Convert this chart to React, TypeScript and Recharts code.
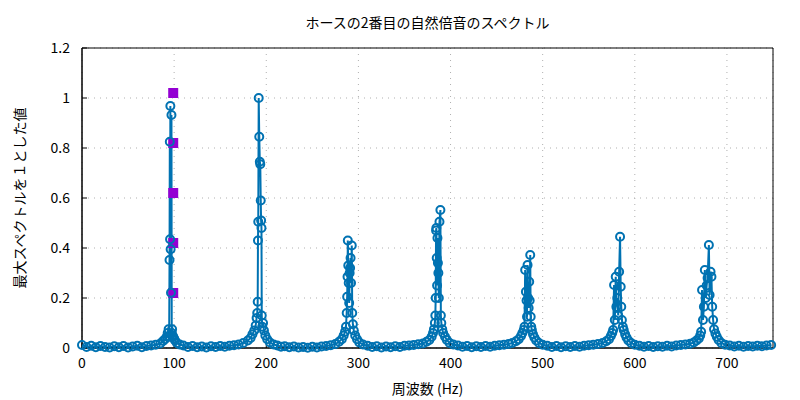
import React from "react";
import {
  ComposedChart, Line, Scatter, XAxis, YAxis, CartesianGrid, ReferenceArea, Label,
} from "recharts";

// spectrum samples (Hz / normalised amplitude)
const freqHz = [
  0, 5, 10, 15, 20, 25, 30, 35, 40, 45, 50, 55, 60, 65, 70, 75, 80, 85,
  88, 90, 92, 93, 94, 94.6, 95.0, 95.3, 95.6, 95.9, 96.2, 96.6, 97.1, 97.4, 97.8, 98.3, 99, 100, 101, 103, 106,
  110, 115, 120, 125, 130, 135, 140, 145, 150, 155, 160, 165, 170, 175, 180,
  183, 185, 187, 188.5, 189.5, 190.2, 190.7, 191.0, 191.3, 191.8, 192.4, 193.0, 193.5, 194.0, 194.4, 194.8, 195.1, 195.6, 196.5, 197.5, 199, 201, 204, 208,
  212, 216, 220, 225, 230, 235, 240, 245, 250, 255, 260, 265, 270, 275, 279,
  282, 284, 285.5, 286.5, 287.3, 287.8, 288.2, 288.5, 289.0, 289.5, 290.0, 290.5, 291.0, 291.5, 292.0, 292.8, 293.3, 294, 295, 296.5, 298.5, 301, 305,
  310, 315, 320, 325, 330, 335, 340, 345, 350, 355, 360, 365, 370, 374, 377,
  379.5, 381, 382, 383, 383.5, 383.9, 384.3, 384.6, 385, 385.4, 385.8, 386.3, 386.8, 387.3, 388, 389, 389.5, 390, 391, 392, 394, 396, 399, 403,
  408, 413, 418, 423, 428, 433, 438, 443, 448, 453, 458, 463, 467, 471, 474,
  476.5, 478, 479.5, 480.3, 481, 481.8, 482.5, 483, 483.6, 484.2, 484.8, 485.4, 485.9, 486.5, 487, 487.6, 488.3, 489.5, 491, 493, 496, 500,
  505, 510, 515, 520, 525, 530, 535, 540, 545, 550, 555, 560, 565, 569, 572,
  574, 575.5, 576.5, 577.5, 578.3, 579.3, 580, 581, 582, 583, 584, 584.7, 585.3, 586, 587, 588, 589.5, 591, 593, 596, 600,
  605, 610, 615, 620, 625, 630, 635, 640, 645, 650, 655, 660, 664, 667, 669.5,
  671, 672, 673, 674, 675, 676, 677, 678, 679, 680.4, 681.2, 682.2, 683.2, 684, 685, 686, 687.5, 689, 691, 694, 698,
  703, 708, 713, 718, 723, 728, 733, 738, 743, 748,
];

const amplitude = [
  0.012, 0.004, 0.009, 0.003, 0.008, 0.004, 0.002, 0.007, 0.003, 0.008, 0.002, 0.006, 0.009, 0.003, 0.008, 0.01, 0.013, 0.018,
  0.028, 0.035, 0.045, 0.06, 0.075, 0.045, 0.352, 0.825, 0.435, 0.968, 0.395, 0.221, 0.932, 0.06, 0.075, 0.05, 0.045, 0.038, 0.03, 0.02, 0.014,
  0.01, 0.004, 0.008, 0.003, 0.006, 0.002, 0.007, 0.004, 0.008, 0.005, 0.009, 0.011, 0.014, 0.02, 0.03,
  0.04, 0.055, 0.07, 0.09, 0.12, 0.14, 0.185, 0.43, 0.505, 1.0, 0.845, 0.745, 0.735, 0.59, 0.51, 0.48, 0.13, 0.085, 0.1, 0.07, 0.05, 0.035, 0.022, 0.014,
  0.01, 0.005, 0.007, 0.003, 0.006, 0.002, 0.004, 0.001, 0.005, 0.002, 0.006, 0.008, 0.011, 0.016, 0.025,
  0.035, 0.05, 0.065, 0.085, 0.14, 0.205, 0.285, 0.43, 0.33, 0.26, 0.18, 0.3, 0.32, 0.36, 0.26, 0.41, 0.14, 0.095, 0.07, 0.05, 0.035, 0.022, 0.014,
  0.009, 0.004, 0.007, 0.002, 0.006, 0.003, 0.007, 0.004, 0.009, 0.01, 0.012, 0.015, 0.018, 0.025, 0.032,
  0.045, 0.06, 0.075, 0.1, 0.13, 0.2, 0.47, 0.48, 0.36, 0.25, 0.44, 0.34, 0.3, 0.2, 0.505, 0.552, 0.13, 0.1, 0.075, 0.06, 0.045, 0.032, 0.02, 0.014,
  0.01, 0.005, 0.008, 0.003, 0.007, 0.004, 0.008, 0.005, 0.009, 0.011, 0.013, 0.016, 0.02, 0.027, 0.035,
  0.048, 0.06, 0.072, 0.085, 0.312, 0.225, 0.19, 0.125, 0.332, 0.2, 0.16, 0.265, 0.19, 0.372, 0.125, 0.085, 0.072, 0.055, 0.042, 0.03, 0.02, 0.013,
  0.009, 0.004, 0.008, 0.003, 0.007, 0.004, 0.008, 0.005, 0.009, 0.011, 0.013, 0.016, 0.02, 0.027, 0.035,
  0.048, 0.06, 0.072, 0.252, 0.112, 0.285, 0.165, 0.2, 0.13, 0.305, 0.445, 0.245, 0.165, 0.112, 0.085, 0.072, 0.055, 0.042, 0.03, 0.02, 0.013,
  0.009, 0.005, 0.008, 0.004, 0.007, 0.005, 0.009, 0.006, 0.01, 0.012, 0.014, 0.017, 0.022, 0.03, 0.038,
  0.05, 0.065, 0.232, 0.112, 0.165, 0.312, 0.2, 0.25, 0.28, 0.412, 0.212, 0.305, 0.285, 0.165, 0.112, 0.075, 0.058, 0.045, 0.032, 0.02, 0.013,
  0.01, 0.006, 0.009, 0.005, 0.008, 0.006, 0.009, 0.007, 0.01, 0.012,
];

// purple square markers near the first harmonic
const markFreq = [99, 99, 99, 99, 99];
const markLevel = [1.02, 0.82, 0.62, 0.42, 0.22];

const xTicks = [0, 100, 200, 300, 400, 500, 600, 700];
const yTicks = [0, 0.2, 0.4, 0.6, 0.8, 1, 1.2];

const FONT = "'Noto Sans CJK JP', 'DejaVu Sans', sans-serif";
const BLUE = "#0072b2";
const PURPLE = "#9400d3";

const spectrum = freqHz.map((f, i) => ({ f, a: amplitude[i] }));
const marks = markFreq.map((f, i) => ({ f, a: markLevel[i] }));

const tickStyle = { fontSize: 14, fill: "#000", fontFamily: FONT };

function Square(props: any) {
  const { cx, cy } = props;
  return <rect x={cx - 5} y={cy - 5} width={10} height={10} fill={PURPLE} />;
}

export default function App() {
  return (
    <div style={{ position: "absolute", left: 0, top: 0, width: 800, height: 400, background: "#fff", fontFamily: FONT }}>
      <div style={{ position: "absolute", top: 12, left: 82, width: 691, textAlign: "center", fontSize: 14, color: "#000" }}>
        ホースの2番目の自然倍音のスペクトル
      </div>
      <ComposedChart width={800} height={400} data={spectrum} margin={{ top: 48, right: 27, bottom: 0, left: 0 }}>
        <CartesianGrid strokeDasharray="1 5" stroke="#b0b0b0" />
        <XAxis
          dataKey="f" type="number" domain={[0, 750]} ticks={xTicks} height={52}
          tick={tickStyle} tickSize={-5} tickMargin={15} stroke="#000" interval={0}
        >
          <Label value="周波数 (Hz)" position="insideBottom" offset={6} style={{ fontSize: 14, fill: "#000", fontFamily: FONT }} />
        </XAxis>
        <XAxis xAxisId="top" orientation="top" dataKey="f" type="number" domain={[0, 750]} ticks={xTicks}
          height={0} tick={() => null} tickSize={-5} axisLine={false} stroke="#000" />
        <YAxis
          type="number" domain={[0, 1.2]} ticks={yTicks} width={82}
          tick={tickStyle} tickSize={-5} tickMargin={17} stroke="#000" interval={0}
        >
          <Label value="最大スペクトルを１とした値" angle={-90} position="insideLeft" offset={20}
            style={{ fontSize: 14, fill: "#000", fontFamily: FONT, textAnchor: "middle" }} />
        </YAxis>
        <YAxis yAxisId="right" orientation="right" type="number" domain={[0, 1.2]} ticks={yTicks}
          width={0} tick={() => null} tickSize={-5} axisLine={false} stroke="#000" />
        <Scatter data={marks} dataKey="a" shape={<Square />} isAnimationActive={false} />
        <Line
          type="linear" dataKey="a" stroke={BLUE} strokeWidth={2}
          dot={{ r: 4, stroke: BLUE, strokeWidth: 2, fill: "none" }}
          activeDot={false} isAnimationActive={false}
        />
        <ReferenceArea x1={0} x2={750} y1={0} y2={1.2} fill="none" stroke="#000" strokeWidth={1} />
      </ComposedChart>
    </div>
  );
}
